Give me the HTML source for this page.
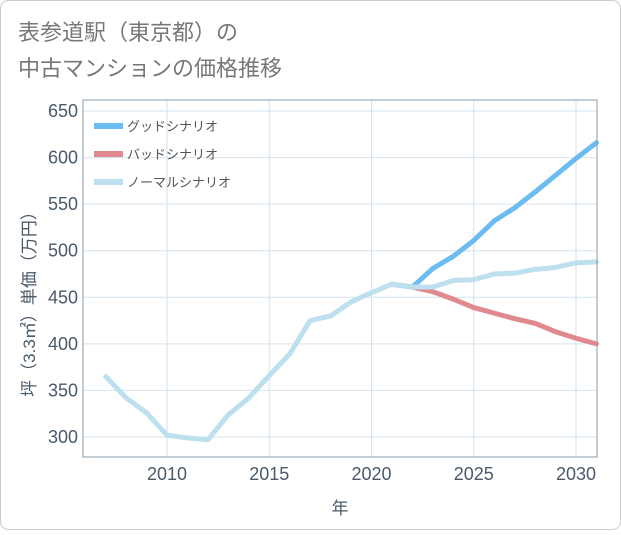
<!DOCTYPE html>
<html><head><meta charset="utf-8"><style>
body{margin:0;background:#fff;}
#wrap{width:621px;height:530px;position:relative;font-family:"Liberation Sans","Noto Sans CJK JP",sans-serif;}
</style></head><body>
<div id="wrap">
<svg id="svg" width="621" height="530">
<rect x="0.5" y="0.5" width="620" height="529" rx="8" fill="#fff" stroke="#ccc"/>
<text x="18" y="40" font-size="22" fill="#777">表参道駅（東京都）の</text>
<text x="18" y="76" font-size="22" fill="#777">中古マンションの価格推移</text>
<g id="grid"></g><g id="series"></g><g id="axes"></g>
</svg></div>
<script>
const years=[2007,2008,2009,2010,2011,2012,2013,2014,2015,2016,2017,2018,2019,2020,2021,2022,2023,2024,2025,2026,2027,2028,2029,2030,2031];
const normal=[365,342,326,302,299,297,324,342,366,389,425,430,445,455,464,461,461,468,469,475,476,480,482,487,488];
const goodYears=[2021,2022,2023,2024,2025,2026,2027,2028,2029,2030,2031];
const good=[464,461,481,494,511,532,546,563,581,599,616];
const bad=[464,461,456,448,439,433,427,422,413,406,400];
const xTicks=[2010,2015,2020,2025,2030];
const yTicks=[300,350,400,450,500,550,600,650];
const L=83,R=597,T=100,B=457;
const X=v=>167+(v-2010)*(576-167)/20;
const Y=v=>437-(v-300)*(437-111)/350;
const NS="http://www.w3.org/2000/svg";
function mk(p,t,a){const e=document.createElementNS(NS,t);for(const k in a)e.setAttribute(k,a[k]);p.appendChild(e);return e;}
const g=document.getElementById('grid'),s=document.getElementById('series'),ax=document.getElementById('axes');
xTicks.forEach(t=>{const l=mk(g,'line',{x1:X(t),x2:X(t),y1:T,y2:B,stroke:'#d5e3ee'});

const tx=mk(ax,'text',{x:X(t),y:480,'font-size':18,fill:'#4a5a6a','text-anchor':'middle'});tx.textContent=t;
});
yTicks.forEach(t=>{const l=mk(g,'line',{x1:L,x2:R,y1:Y(t),y2:Y(t),stroke:'#d5e3ee'});

const tx=mk(ax,'text',{x:78,y:Y(t)+6,'font-size':18,fill:'#4a5a6a','text-anchor':'end'});tx.textContent=t;
});
const fr=mk(ax,'rect',{x:L,y:T,width:R-L,height:B-T,fill:'none',stroke:'#8a9aa8'});

function line(xs,ys,c,n){const p=mk(s,'polyline',{points:xs.map((x,i)=>X(x)+','+Y(ys[i])).join(' '),fill:'none',stroke:c,'stroke-width':5,'stroke-linejoin':'round','stroke-linecap':'round'});
}
line(goodYears,bad,'#e08a90','bad-line');
line(goodYears,good,'#6bbcf0','good-line');
line(years,normal,'#bde0ef','normal-line');
const leg=[['グッドシナリオ','#6bbcf0'],['バッドシナリオ','#e08a90'],['ノーマルシナリオ','#bde0ef']];
leg.forEach((d,i)=>{const y=126+i*28;
const r=mk(ax,'rect',{x:94,y:y-3,width:29,height:6,fill:d[1]});
const t=mk(ax,'text',{x:127,y:y+5,'font-size':13,fill:'#555'});t.textContent=d[0];});
const xt=mk(ax,'text',{x:340,y:514,'font-size':17,fill:'#4a5a6a','text-anchor':'middle'});xt.textContent='年';

const yt=mk(ax,'text',{x:0,y:0,'font-size':17,fill:'#4a5a6a','text-anchor':'middle',transform:'translate(35,300) rotate(-90)'});yt.textContent='坪（3.3㎡）単価（万円）';

</script></body></html>
